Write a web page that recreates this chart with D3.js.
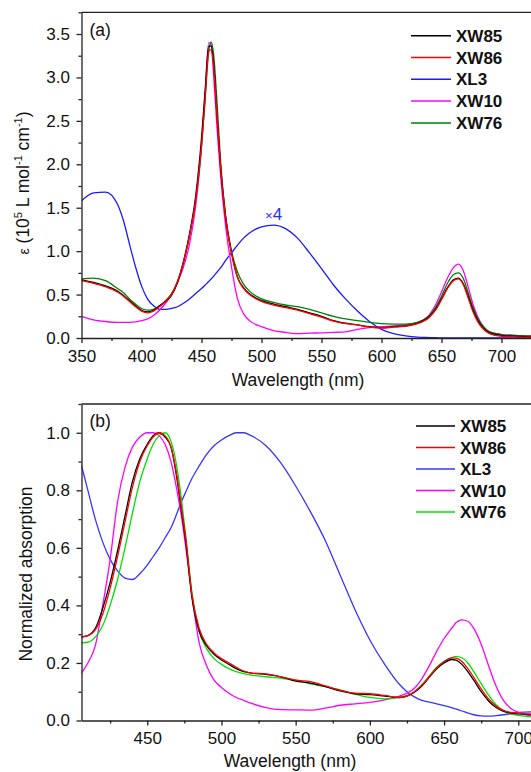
<!DOCTYPE html>
<html>
<head>
<meta charset="utf-8">
<script src="https://cdn.jsdelivr.net/npm/d3@7"></script>
<style>
  body { margin: 0; background: #fff; }
  svg { display: block; font-family: "Liberation Sans", Arial, sans-serif; }
  .axis path, .axis line { stroke: #222; stroke-width: 1.3; }
  .axis text { font-size: 17px; fill: #111; }
</style>
</head>
<body>
<svg id="chart" width="531" height="772"></svg>
<script>
// ---- panel (a): molar absorptivity, 10^5 L mol-1 cm-1 (XL3 multiplied by 4) ----
const wlA = [350,360,370,380,385,390,395,400,405,410,415,420,425,430,435,440,445,450,453,456,
  458,460,463,466,470,475,480,485,490,500,510,520,530,540,550,560,570,580,590,600,
  610,620,630,640,645,650,655,660,664,668,672,676,680,685,690,700,710,720,750];
const aXW85 = [.67,.64,.60,.54,.49,.43,.37,.32,.30,.32,.37,.42,.49,.64,.88,1.20,1.62,2.30,2.85,3.36,
  3.36,3.18,2.55,1.95,1.40,0.98,0.70,0.58,0.51,0.43,0.39,0.36,0.33,0.29,0.25,0.20,0.17,0.15,0.13,0.12,
  0.13,0.14,0.17,0.25,0.33,0.45,0.58,0.67,0.69,0.63,0.49,0.33,0.21,0.11,0.06,0.03,0.02,0.015,0.01];
const aXW86 = [.66,.63,.59,.53,.48,.42,.36,.31,.29,.31,.36,.42,.50,.65,.88,1.18,1.58,2.22,2.75,3.30,
  3.32,3.14,2.55,1.95,1.40,0.98,0.70,0.57,0.50,0.42,0.38,0.35,0.32,0.28,0.24,0.195,0.165,0.15,0.125,0.115,
  0.125,0.135,0.165,0.24,0.32,0.44,0.57,0.66,0.68,0.62,0.47,0.31,0.19,0.10,0.05,0.02,0.015,0.01,0.01];
const aXL3 = [1.58,1.67,1.68,1.54,1.35,1.08,0.82,0.60,0.45,0.37,0.33,0.33,0.34,0.36,0.40,0.45,0.51,0.57,0.61,0.65,
  0.68,0.71,0.76,0.81,0.89,0.98,1.07,1.15,1.21,1.28,1.30,1.26,1.15,0.98,0.80,0.61,0.45,0.31,0.19,0.10,
  0.05,0.025,0.01,0.005,0.003,0.002,0,0,0,0,0,0,0,0,0,0,0,0,0];
const aXW10 = [.25,.21,.19,.18,.18,.18,.185,.20,.22,.26,.32,.40,.50,.64,.82,1.08,1.50,2.20,2.80,3.40,
  3.38,3.05,2.40,1.85,1.30,0.82,0.45,0.28,0.20,0.13,0.085,0.065,0.05,0.055,0.06,0.065,0.07,0.10,0.12,0.13,
  0.14,0.15,0.18,0.27,0.38,0.53,0.69,0.81,0.85,0.78,0.60,0.40,0.25,0.13,0.07,0.04,0.03,0.025,0.02];
const aXW76 = [.68,.69,.66,.57,.52,.45,.39,.34,.32,.33,.37,.43,.51,.65,.87,1.17,1.57,2.20,2.75,3.30,
  3.41,3.28,2.70,2.02,1.42,1.00,0.76,0.62,0.54,0.45,0.41,0.38,0.36,0.33,0.29,0.25,0.22,0.20,0.18,0.165,
  0.16,0.16,0.18,0.26,0.35,0.48,0.63,0.73,0.75,0.69,0.53,0.36,0.23,0.13,0.07,0.04,0.03,0.025,0.02];

// ---- panel (b): normalized absorption ----
const wlB = [405,410,415,420,425,430,435,440,445,450,454,458,462,466,470,473,476,480,485,490,
  495,500,505,510,515,520,530,540,550,560,570,580,590,600,610,620,625,630,635,640,
  645,650,655,658,662,666,670,675,680,685,690,695,700,710,720,750];
const bXW85 = [.29,.295,.32,.39,.48,.59,.71,.83,.91,.96,.99,1.0,.985,.95,.84,.73,.62,.43,.31,.26,
  .23,.21,.195,.18,.17,.165,.16,.152,.137,.13,.118,.103,.093,.09,.085,.08,.085,.098,.12,.15,
  .18,.20,.212,.21,.195,.17,.14,.10,.068,.045,.032,.026,.023,.02,.02,.02];
const bXW86 = [.29,.295,.315,.37,.46,.57,.69,.81,.90,.955,.985,1.0,.99,.95,.85,.74,.63,.44,.32,.265,
  .235,.215,.20,.185,.172,.165,.162,.152,.14,.135,.12,.105,.095,.093,.087,.08,.085,.10,.122,.152,
  .183,.205,.218,.217,.205,.18,.15,.11,.075,.05,.035,.028,.025,.022,.02,.02];
const bXL3 = [.90,.80,.70,.62,.56,.52,.495,.49,.51,.54,.57,.60,.635,.67,.72,.76,.795,.84,.885,.925,
  .955,.975,.99,1.0,1.0,.99,.955,.895,.815,.725,.625,.505,.385,.28,.195,.125,.10,.082,.07,.064,
  .058,.052,.045,.04,.033,.026,.02,.016,.015,.017,.02,.024,.028,.03,.03,.03];
const bXW10 = [.16,.20,.26,.40,.56,.76,.88,.95,.985,1.0,1.0,.99,.96,.90,.80,.71,.60,.44,.27,.19,
  .14,.115,.095,.08,.07,.06,.045,.038,.037,.036,.043,.053,.058,.063,.072,.085,.095,.112,.145,.19,
  .24,.285,.32,.34,.35,.345,.32,.265,.19,.12,.07,.042,.028,.015,.01,.01];
const bXW76 = [.27,.272,.29,.33,.40,.49,.60,.72,.83,.91,.96,.99,1.0,.97,.88,.77,.64,.45,.31,.25,
  .215,.195,.18,.17,.163,.158,.152,.147,.14,.127,.118,.106,.092,.08,.075,.08,.087,.10,.125,.155,
  .185,.205,.218,.223,.218,.20,.17,.128,.088,.055,.035,.023,.018,.012,.01,.01];

const names = ["XW85", "XW86", "XL3", "XW10", "XW76"];
const colorsA = ["#000000", "#ff0000", "#1a1aff", "#ff00ff", "#008000"];
const colorsB = ["#000000", "#ff0000", "#3535ff", "#ff00ff", "#00e000"];
const drawOrder = [2, 3, 4, 0, 1];

const svg = d3.select("#chart");

function panel(opt) {
  const g = svg.append("g");
  const x = d3.scaleLinear().domain(opt.xDomain).range(opt.xRange);
  const y = d3.scaleLinear().domain(opt.yDomain).range(opt.yRange);
  const left = opt.xRange[0], bottom = opt.yRange[0], top = opt.yRange[1];

  g.append("clipPath").attr("id", opt.id)
    .append("rect").attr("x", left).attr("y", top).attr("width", 600).attr("height", bottom - top);

  const line = d3.line().x((d, i) => x(opt.wl[i])).y(d => y(d)).curve(d3.curveMonotoneX);
  drawOrder.forEach(k => {
    g.append("path")
      .datum(opt.series[k])
      .attr("clip-path", `url(#${opt.id})`)
      .attr("fill", "none")
      .attr("stroke", opt.colors[k])
      .attr("stroke-width", 1.3)
      .attr("d", line);
  });

  // minor ticks
  g.append("g").attr("class", "axis").attr("transform", `translate(0,${bottom})`)
    .call(d3.axisBottom(x).tickValues(opt.xMinor).tickSize(3).tickFormat(""))
    .select(".domain").remove();
  g.append("g").attr("class", "axis").attr("transform", `translate(${left},0)`)
    .call(d3.axisLeft(y).tickValues(opt.yMinor).tickSize(3).tickFormat(""))
    .select(".domain").remove();

  // major axes
  g.append("g").attr("class", "axis").attr("transform", `translate(0,${bottom})`)
    .call(d3.axisBottom(x).tickValues(opt.xTicks).tickSize(5).tickPadding(6.5).tickSizeOuter(0));
  g.append("g").attr("class", "axis").attr("transform", `translate(${left},0)`)
    .call(d3.axisLeft(y).tickValues(opt.yTicks).tickSize(5).tickPadding(6.5)
      .tickSizeOuter(0).tickFormat(d3.format(".1f")));

  // top frame
  g.append("line").attr("x1", left).attr("x2", 531).attr("y1", top).attr("y2", top)
    .attr("stroke", "#222").attr("stroke-width", 1.3);

  g.append("text").attr("x", left + 8).attr("y", top + opt.labelDy)
    .attr("font-size", 17.5).attr("fill", "#111").text(opt.label);

  // legend
  const lg = g.append("g").attr("transform", `translate(${opt.legend[0]},${opt.legend[1]})`);
  names.forEach((n, i) => {
    const row = lg.append("g").attr("transform", `translate(0,${i * opt.legendStep})`);
    row.append("line").attr("x1", 0).attr("x2", opt.legendLen).attr("y1", 0).attr("y2", 0)
      .attr("stroke", opt.colors[i]).attr("stroke-width", 1.5);
    row.append("text").attr("x", opt.legendLen + 5).attr("y", 6)
      .attr("font-size", 17).attr("font-weight", "bold").attr("fill", "#111").text(n);
  });

  g.append("text").attr("x", opt.xTitle[0]).attr("y", opt.xTitle[1])
    .attr("text-anchor", "middle").attr("font-size", 17.5).attr("fill", "#111")
    .text("Wavelength (nm)");
  return { g, x, y };
}

const pa = panel({
  id: "clipA", wl: wlA, series: [aXW85, aXW86, aXL3, aXW10, aXW76], colors: colorsA,
  xDomain: [350, 750], xRange: [81.5, 561.5], yDomain: [0, 3.75], yRange: [338, 12.3],
  xTicks: d3.range(350, 701, 50), xMinor: d3.range(375, 726, 50),
  yTicks: d3.range(0, 3.51, 0.5), yMinor: d3.range(0.25, 3.76, 0.5),
  label: "(a)", labelDy: 24, legend: [411, 35.7], legendStep: 21.8, legendLen: 40,
  xTitle: [298, 386]
});

const pb = panel({
  id: "clipB", wl: wlB, series: [bXW85, bXW86, bXL3, bXW10, bXW76], colors: colorsB,
  xDomain: [405.7, 750], xRange: [81.5, 592.5], yDomain: [0, 1.1], yRange: [720.5, 404],
  xTicks: d3.range(450, 701, 50), xMinor: d3.range(425, 726, 50),
  yTicks: d3.range(0, 1.01, 0.2), yMinor: d3.range(0.1, 1.11, 0.2),
  label: "(b)", labelDy: 23, legend: [416, 426], legendStep: 21.5, legendLen: 39,
  xTitle: [290, 767]
});

// y titles
const ya = svg.append("text").attr("transform", "translate(29,183) rotate(-90)")
  .attr("text-anchor", "middle").attr("font-size", 17.5).attr("fill", "#111");
ya.append("tspan").attr("font-size", 14).text("\u03b5");
ya.append("tspan").text(" (10");
ya.append("tspan").attr("font-size", 11).attr("dy", -7).text("5");
ya.append("tspan").attr("dy", 7).text(" L mol");
ya.append("tspan").attr("font-size", 11).attr("dy", -7).text("-1");
ya.append("tspan").attr("dy", 7).text(" cm");
ya.append("tspan").attr("font-size", 11).attr("dy", -7).text("-1");
ya.append("tspan").attr("dy", 7).text(")");

svg.append("text").attr("transform", "translate(32,574) rotate(-90)")
  .attr("text-anchor", "middle").attr("font-size", 17.5).attr("fill", "#111")
  .text("Normalized absorption");

// x4 note on XL3 in panel (a)
const note = svg.append("text").attr("x", pa.x(503)).attr("y", 220)
  .attr("fill", "#2a2aff").attr("font-size", 17);
note.append("tspan").attr("font-size", 13).text("\u00d7");
note.append("tspan").text("4");
</script>
</body>
</html>
